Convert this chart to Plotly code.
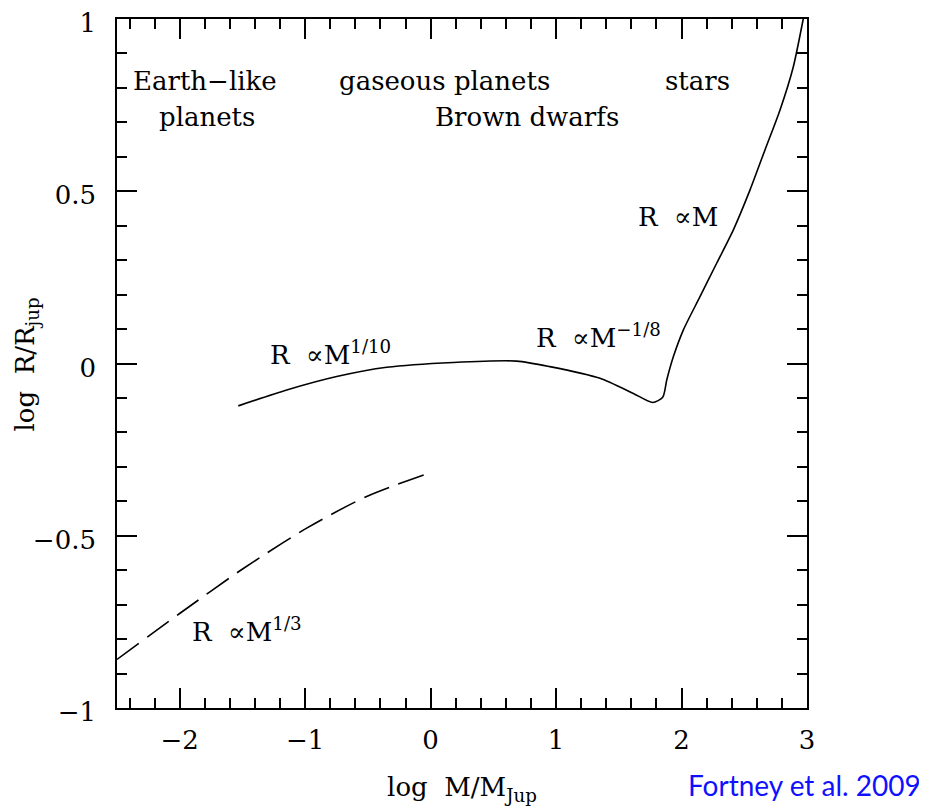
import plotly.graph_objects as go

# Solid curve: log R/Rjup vs log M/MJup
solid_x = [-1.533, -1.147, -0.749, -0.35, 0.181, 0.686, 0.95, 1.35, 1.616, 1.77, 1.85, 1.882,
           1.935, 2.014, 2.147, 2.28, 2.413, 2.546, 2.665, 2.785, 2.89, 2.97, 3.0]
solid_y = [-0.123, -0.077, -0.038, -0.011, 0.003, 0.007, -0.009, -0.043, -0.087, -0.113, -0.098, -0.048,
           0.020, 0.097, 0.194, 0.291, 0.388, 0.504, 0.62, 0.736, 0.86, 1.0, 1.06]

# Dashed curve: R ∝ M^(1/3)
dash_x = [-2.5, -1.998, -1.493, -0.988, -0.51, -0.005]
dash_y = [-0.859, -0.725, -0.595, -0.478, -0.386, -0.317]

x_tickvals = [-2, -1, 0, 1, 2, 3]
x_ticktext = ["−2", "−1", "0", "1", "2", "3"]
y_tickvals = [-1, -0.5, 0, 0.5, 1]
y_ticktext = ["−1", "−0.5", "0", "0.5", "1"]

label_text = ["Earth−like", "planets", "gaseous planets", "Brown dwarfs", "stars",
              "R  ∝M", "R  ∝M<sup>−1/8</sup>", "R  ∝M<sup>1/10</sup>", "R  ∝M<sup>1/3</sup>"]
label_x = [-1.80, -1.78, 0.107, 0.768, 2.13, 1.97, 1.34, -0.80, -1.46]
label_y = [0.82, 0.716, 0.82, 0.716, 0.82, 0.425, 0.08, 0.03, -0.775]

x_title = "log  M/M<sub>Jup</sub>"
y_title = "log  R/R<sub>jup</sub>"
credit = "Fortney et al. 2009"

FONT = "DejaVu Serif"

fig = go.Figure()
fig.add_trace(go.Scatter(x=solid_x, y=solid_y, mode="lines",
                         line=dict(color="black", width=1.6, shape="spline", smoothing=0.7),
                         showlegend=False))
fig.add_trace(go.Scatter(x=dash_x, y=dash_y, mode="lines",
                         line=dict(color="black", width=1.6, dash="27px,10px", shape="spline", smoothing=0.8),
                         showlegend=False))

for t, x, y in zip(label_text, label_x, label_y):
    fig.add_annotation(x=x, y=y, xref="x", yref="y", text=t, showarrow=False,
                       xanchor="center", yanchor="middle",
                       font=dict(family=FONT, size=26, color="black"))

# y-axis title placed as rotated text
fig.add_annotation(x=-0.131, y=0.498, xref="paper", yref="paper", text=y_title,
                   showarrow=False, xanchor="center", yanchor="middle", textangle=-90,
                   font=dict(family=FONT, size=26, color="black"))

fig.add_annotation(x=1.168, y=-0.112, xref="paper", yref="paper", text=credit,
                   showarrow=False, xanchor="right", yanchor="middle",
                   font=dict(family="Lato", size=28, color="#1010ff"))

axis_common = dict(showline=True, linecolor="black", linewidth=1.6, mirror="allticks",
                   ticks="inside", ticklen=20, tickwidth=1.5, tickcolor="black",
                   showgrid=False, zeroline=False, automargin=False,
                   ticklabeloverflow="allow",
                   tickfont=dict(family=FONT, size=26, color="black"))

fig.update_xaxes(range=[-2.5, 3], tickmode="array", tickvals=x_tickvals, ticktext=x_ticktext,
                 ticklabelstandoff=8,
                 minor=dict(ticks="inside", ticklen=10, tickwidth=1.5, tickcolor="black",
                            tick0=0, dtick=0.2, showgrid=False),
                 title=dict(text=x_title, font=dict(family=FONT, size=26, color="black"),
                            standoff=24),
                 **axis_common)
fig.update_yaxes(range=[-1, 1], tickmode="array", tickvals=y_tickvals, ticktext=y_ticktext,
                 ticklabelstandoff=14, ticklabelshift=4,
                 minor=dict(ticks="inside", ticklen=10, tickwidth=1.5, tickcolor="black",
                            tick0=0, dtick=0.1, showgrid=False),
                 **axis_common)

fig.update_layout(width=919, height=801, margin=dict(l=109, r=120, t=11, b=101),
                  plot_bgcolor="white", paper_bgcolor="white")

fig.write_html("out.html")
